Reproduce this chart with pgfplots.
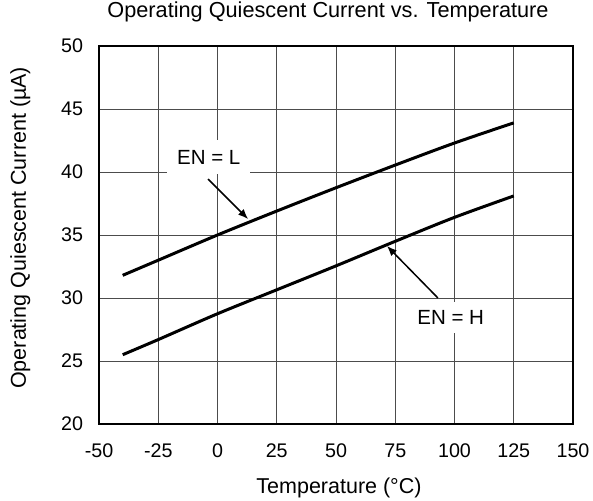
\documentclass[border=0pt]{standalone}
\usepackage{fontspec}
\setmainfont{Liberation Sans}
\usepackage{pgfplots}
\pgfplotsset{compat=1.18}
\usetikzlibrary{arrows.meta}
\pgfplotstableread{
T L H
-40 31.8 25.5
-25 33.0 26.7
0 35.0 28.75
25 36.9 30.65
50 38.75 32.55
75 40.55 34.5
100 42.3 36.4
125 43.9 38.1
}\datatable
\begin{document}
\begin{tikzpicture}[font=\fontsize{19.7}{23}\selectfont]
\useasboundingbox (-99pt,-76pt) rectangle (494pt,424pt);
\begin{axis}[
  at={(0pt,0pt)}, anchor=south west,
  scale only axis, width=474pt, height=378pt,
  xmin=-50, xmax=150, ymin=20, ymax=50,
  xtick={-50,-25,...,150}, ytick={20,25,...,50},
  grid=major,
  major grid style={line width=0.8pt, color=black!70},
  axis line style={line width=2pt},
  major tick length=0pt,
  /pgf/number format/assume math mode=true,
  tick label style={font=\fontsize{19.7}{23}\selectfont},
  label style={font=\fontsize{21.5}{25}\selectfont},
  xticklabel style={anchor=base, yshift=-33pt},
  yticklabel style={anchor=east, xshift=-12.5pt},
  title={Operating Quiescent Current vs. Temperature},
  title style={at={(axis description cs:0.5,1)}, anchor=base, yshift=22pt, xshift=-8pt, font=\fontsize{21.7}{25}\selectfont},
  xlabel={Temperature (°C)},
  xlabel style={at={(axis description cs:0.5,0)}, anchor=base, yshift=-69pt, xshift=3pt},
  ylabel={Operating Quiescent Current (µA)},
  ylabel style={at={(axis description cs:-0.154,0.519)}, anchor=base},
]
\addplot[black, line width=3pt, smooth] table[x=T, y=L] {\datatable};
\addplot[black, line width=3pt, smooth] table[x=T, y=H] {\datatable};
\node[fill=white, anchor=base, inner xsep=10pt, inner ysep=9.5pt, font=\fontsize{20.5}{24}\selectfont] at (axis cs:-3.7,40.63) {EN = L};
\draw[line width=1.5pt, -{Latex[length=10pt,width=8pt]}] (axis cs:-4,39.44) -- (axis cs:12.9,36.27);
\node[fill=white, anchor=base, inner xsep=10pt, inner ysep=8.5pt, font=\fontsize{20.5}{24}\selectfont] at (axis cs:98.4,27.86) {EN = H};
\draw[line width=1.5pt, -{Latex[length=10pt,width=8pt]}] (axis cs:93,30.0) -- (axis cs:71.5,34.13);
\end{axis}
\end{tikzpicture}
\end{document}
